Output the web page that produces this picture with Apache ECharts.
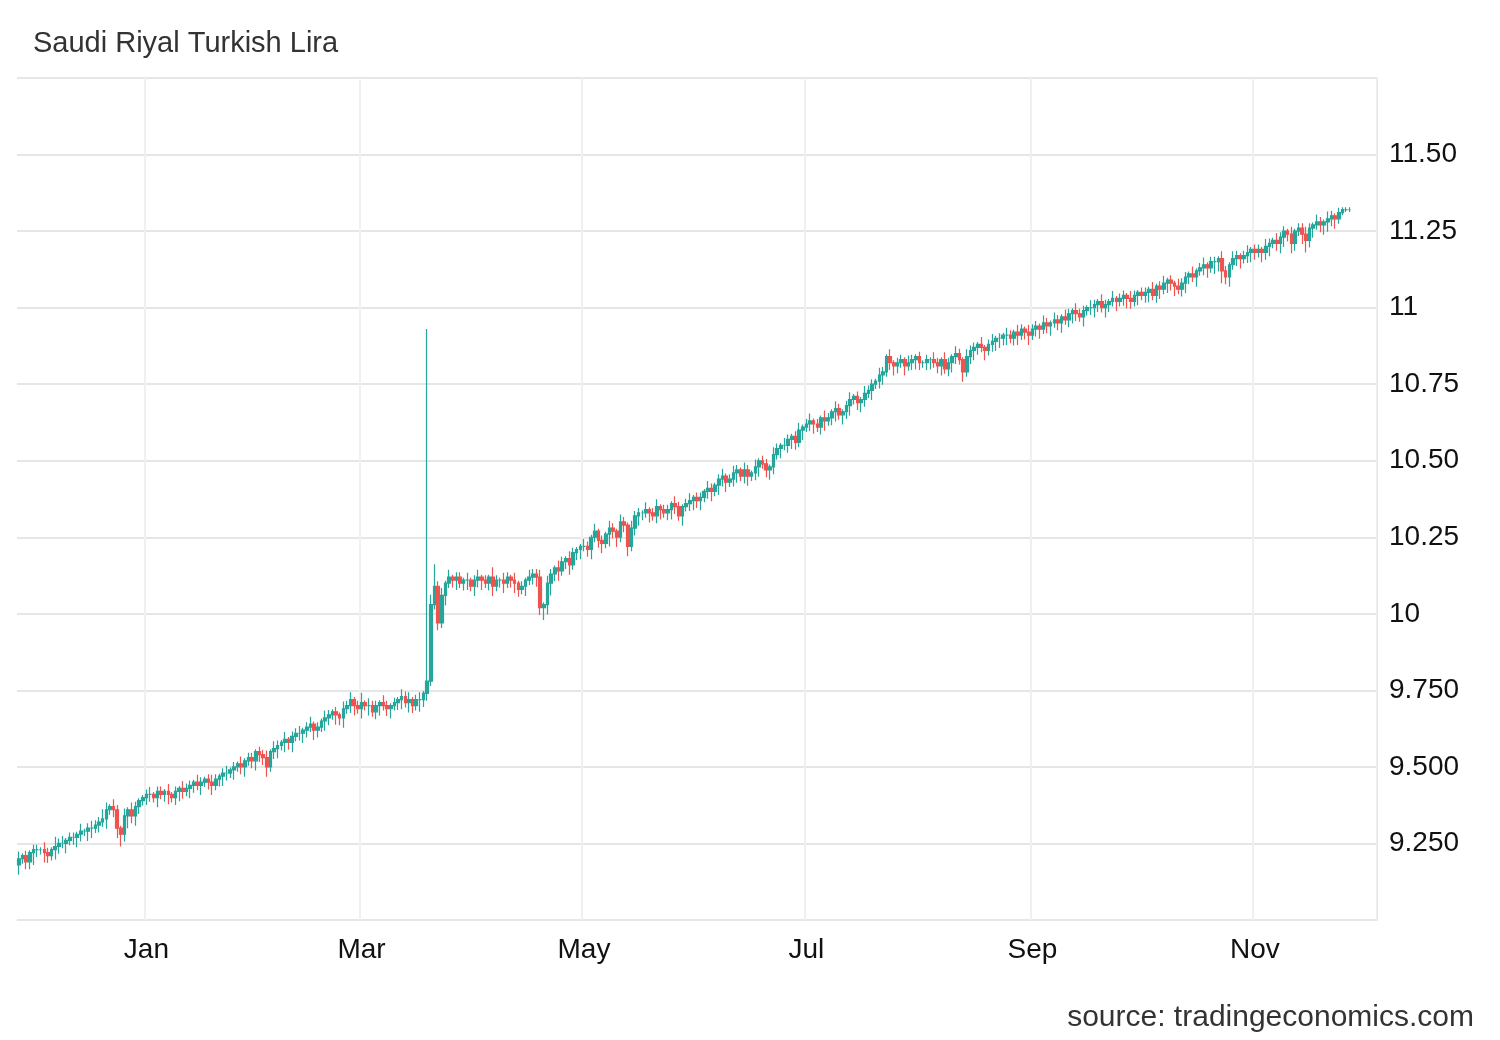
<!DOCTYPE html>
<html>
<head>
<meta charset="utf-8">
<script src="https://cdn.jsdelivr.net/npm/echarts@6/dist/echarts.min.js"></script>
<style>body{margin:0;background:#fff}#chart1{width:1500px;height:1040px}</style>
</head>
<body>
<div id="chart1"></div>
<script>
    // daily closes, 2022-11-27 .. 2023-11-27
    var startDate = '2022-11-27';
    var trailingDays = 7;
    var closes = [
        9.20,9.21,9.19,9.22,9.23,
        9.23,9.23,9.22,9.21,9.23,9.24,9.25,9.25,9.26,9.27,9.27,9.28,9.29,9.29,9.30,9.30,9.31,9.32,9.33,9.36,9.37,9.36,9.30,9.28,9.34,9.36,9.34,9.37,9.39,9.40,9.41,
        9.41,9.40,9.42,9.41,9.42,9.41,9.40,9.42,9.43,9.42,9.43,9.44,9.45,9.44,9.45,9.46,9.45,9.44,9.46,9.47,9.48,9.48,9.49,9.50,9.51,9.50,9.52,9.53,9.52,9.55,9.54,
        9.53,9.50,9.55,9.56,9.57,9.58,9.59,9.58,9.60,9.61,9.61,9.62,9.63,9.64,9.62,9.63,9.65,9.66,9.67,9.68,9.67,9.66,9.69,9.70,9.72,9.70,9.69,9.71,
        9.70,9.70,9.68,9.70,9.71,9.70,9.69,9.70,9.71,9.72,9.73,9.71,9.72,9.70,9.72,9.72,9.74,9.78,10.03,10.09,9.97,10.06,10.10,10.12,10.11,10.12,10.10,10.11,10.11,10.09,10.11,
        10.12,10.11,10.10,10.12,10.09,10.11,10.11,10.10,10.12,10.11,10.10,10.08,10.09,10.11,10.12,10.13,10.12,10.02,10.03,10.10,10.13,10.15,10.14,10.17,10.18,10.16,10.20,10.21,10.22,10.22,
        10.21,10.25,10.27,10.24,10.23,10.26,10.28,10.27,10.25,10.30,10.29,10.22,10.28,10.32,10.33,10.33,10.34,10.33,10.32,10.35,10.34,10.33,10.34,10.36,10.35,10.32,10.35,10.36,10.37,10.38,10.37,
        10.38,10.40,10.41,10.40,10.42,10.44,10.45,10.43,10.44,10.46,10.47,10.45,10.47,10.45,10.46,10.48,10.50,10.49,10.47,10.48,10.52,10.54,10.55,10.55,10.57,10.58,10.56,10.60,10.61,10.62,
        10.63,10.62,10.61,10.64,10.63,10.64,10.66,10.67,10.65,10.66,10.68,10.70,10.71,10.69,10.70,10.72,10.73,10.75,10.76,10.78,10.79,10.84,10.82,10.81,10.82,10.83,10.81,10.82,10.83,10.84,10.82,
        10.82,10.83,10.83,10.82,10.81,10.83,10.80,10.82,10.84,10.85,10.83,10.79,10.84,10.86,10.87,10.88,10.87,10.86,10.88,10.89,10.90,10.90,10.91,10.91,10.90,10.92,10.91,10.93,10.92,10.91,10.93,
        10.94,10.93,10.95,10.94,10.95,10.96,10.95,10.97,10.96,10.98,10.99,10.98,10.97,10.99,11.00,11.00,11.01,11.02,11.00,11.01,11.02,11.03,11.02,11.03,11.04,11.03,11.02,11.04,11.05,11.04,
        11.05,11.06,11.04,11.07,11.06,11.08,11.09,11.08,11.07,11.06,11.08,11.10,11.11,11.10,11.12,11.13,11.14,11.13,11.15,11.15,11.16,11.12,11.10,11.14,11.16,11.17,11.16,11.17,11.18,11.19,11.18,
        11.19,11.18,11.20,11.21,11.22,11.21,11.23,11.25,11.24,11.21,11.25,11.26,11.24,11.22,11.26,11.27,11.28,11.27,11.28,11.29,11.30,11.29,11.31,11.32,11.32,11.32
    ];
    var firstOpen = 9.18;
    // wick lengths above / below the body, in units of 0.008
    var wickUp =
        '31212' + '2132142312213123224313213132112' + '3122131213221321232123121312212' + '2313213122312312132121323124' +
        '1322132121323123124923131221312' + '312142132131213223132132132113' + '2131213213213221312312213212312' + '213212312321321312213213212312' +
        '3121321321231213221321312213212' + '1213213213213221312312132132132' + '213213213213221321321312213212' + '2131231213221312312213213212312' + '21321322131223213213212111';
    var wickDown =
        '42335' + '3243243242343244232423453534323' + '3242342343243242342343242342343' + '3423424342343243243243423424' +
        '2423423423424325332232423423424' + '342342342343242343545342342342' + '3423425342342343242342343242343' + '423424342342342342343242343242' +
        '3423423424342343242342343242343' + '2342342343242343242344342342342' + '342342342343242343243242343242' + '3423424342343242342545342342343' + '24342344343245342344342111';
    // day with an exceptional high
    var spikeDate = '2023-03-19';
    var spikeHigh = 10.93;

    var monthNames = ['Jan','Feb','Mar','Apr','May','Jun','Jul','Aug','Sep','Oct','Nov','Dec'];
    var shownMonths = [0, 2, 4, 6, 8, 10];

    var dates = [];
    var d0 = new Date(startDate + 'T00:00:00Z');
    for (var i = 0; i < closes.length + trailingDays; i++) {
        var d = new Date(d0.getTime() + i * 86400000);
        dates.push(d.toISOString().slice(0, 10));
    }
    var candles = closes.map(function (c, i) {
        var o = i === 0 ? firstOpen : closes[i - 1];
        var u = +(wickUp[i] || 1) * 0.008;
        var w = +(wickDown[i] || 1) * 0.008;
        var hi = Math.max(o, c) + u;
        if (dates[i] === spikeDate) hi = spikeHigh;
        return [o, c, Math.min(o, c) - w, hi];
    });

    function isShown(idx) {
        var s = dates[idx];
        return s.slice(8) === '01' && shownMonths.indexOf(+s.slice(5, 7) - 1) >= 0;
    }

    var option = {
        animation: false,
        title: [{
            text: 'Saudi Riyal Turkish Lira',
            left: 28, top: 24,
            textStyle: {color: '#333', fontSize: 29, fontWeight: 'normal', fontFamily: 'Liberation Sans'}
        }, {
            text: 'source: tradingeconomics.com',
            right: 21, top: 998,
            textStyle: {color: '#333', fontSize: 30, fontWeight: 'normal', fontFamily: 'Liberation Sans'}
        }],
        grid: {left: 17, right: 123, top: 78, bottom: 120},
        xAxis: {
            type: 'category',
            data: dates,
            boundaryGap: true,
            axisLine: {lineStyle: {color: '#e6e6e6'}},
            axisTick: {interval: function (i) { return isShown(i); }, length: 6, lineStyle: {color: '#e6e6e6'}},
            axisLabel: {
                interval: function (i) { return isShown(i); },
                formatter: function (v) { return monthNames[+v.slice(5, 7) - 1]; },
                color: '#111', fontSize: 28, margin: 16, fontFamily: 'Liberation Sans'
            },
            splitLine: {show: true, interval: function (i) { return isShown(i); }, lineStyle: {color: '#f0f0f0', width: 2}}
        },
        yAxis: {
            type: 'value',
            position: 'right',
            min: 9, max: 11.75, interval: 0.25,
            axisLine: {show: true, lineStyle: {color: '#e6e6e6'}},
            axisTick: {show: false},
            splitLine: {lineStyle: {color: '#e6e6e6', width: 2}},
            axisLabel: {
                showMinLabel: false, showMaxLabel: false,
                color: '#111', fontSize: 28, margin: 12, fontFamily: 'Liberation Sans',
                formatter: function (v) {
                    if (v < 10) return v.toFixed(3);
                    if (Math.abs(v - Math.round(v)) < 1e-9) return String(Math.round(v));
                    return v.toFixed(2);
                }
            }
        },
        series: [{
            type: 'candlestick',
            data: candles,
            barWidth: '85%',
            itemStyle: {
                color: '#26a69a', color0: '#ef5350',
                borderColor: '#26a69a', borderColor0: '#ef5350', borderWidth: 1.2
            }
        }]
    };
    var myChart = echarts.init(document.getElementById('chart1'));
    myChart.setOption(option);
</script>
</body>
</html>
